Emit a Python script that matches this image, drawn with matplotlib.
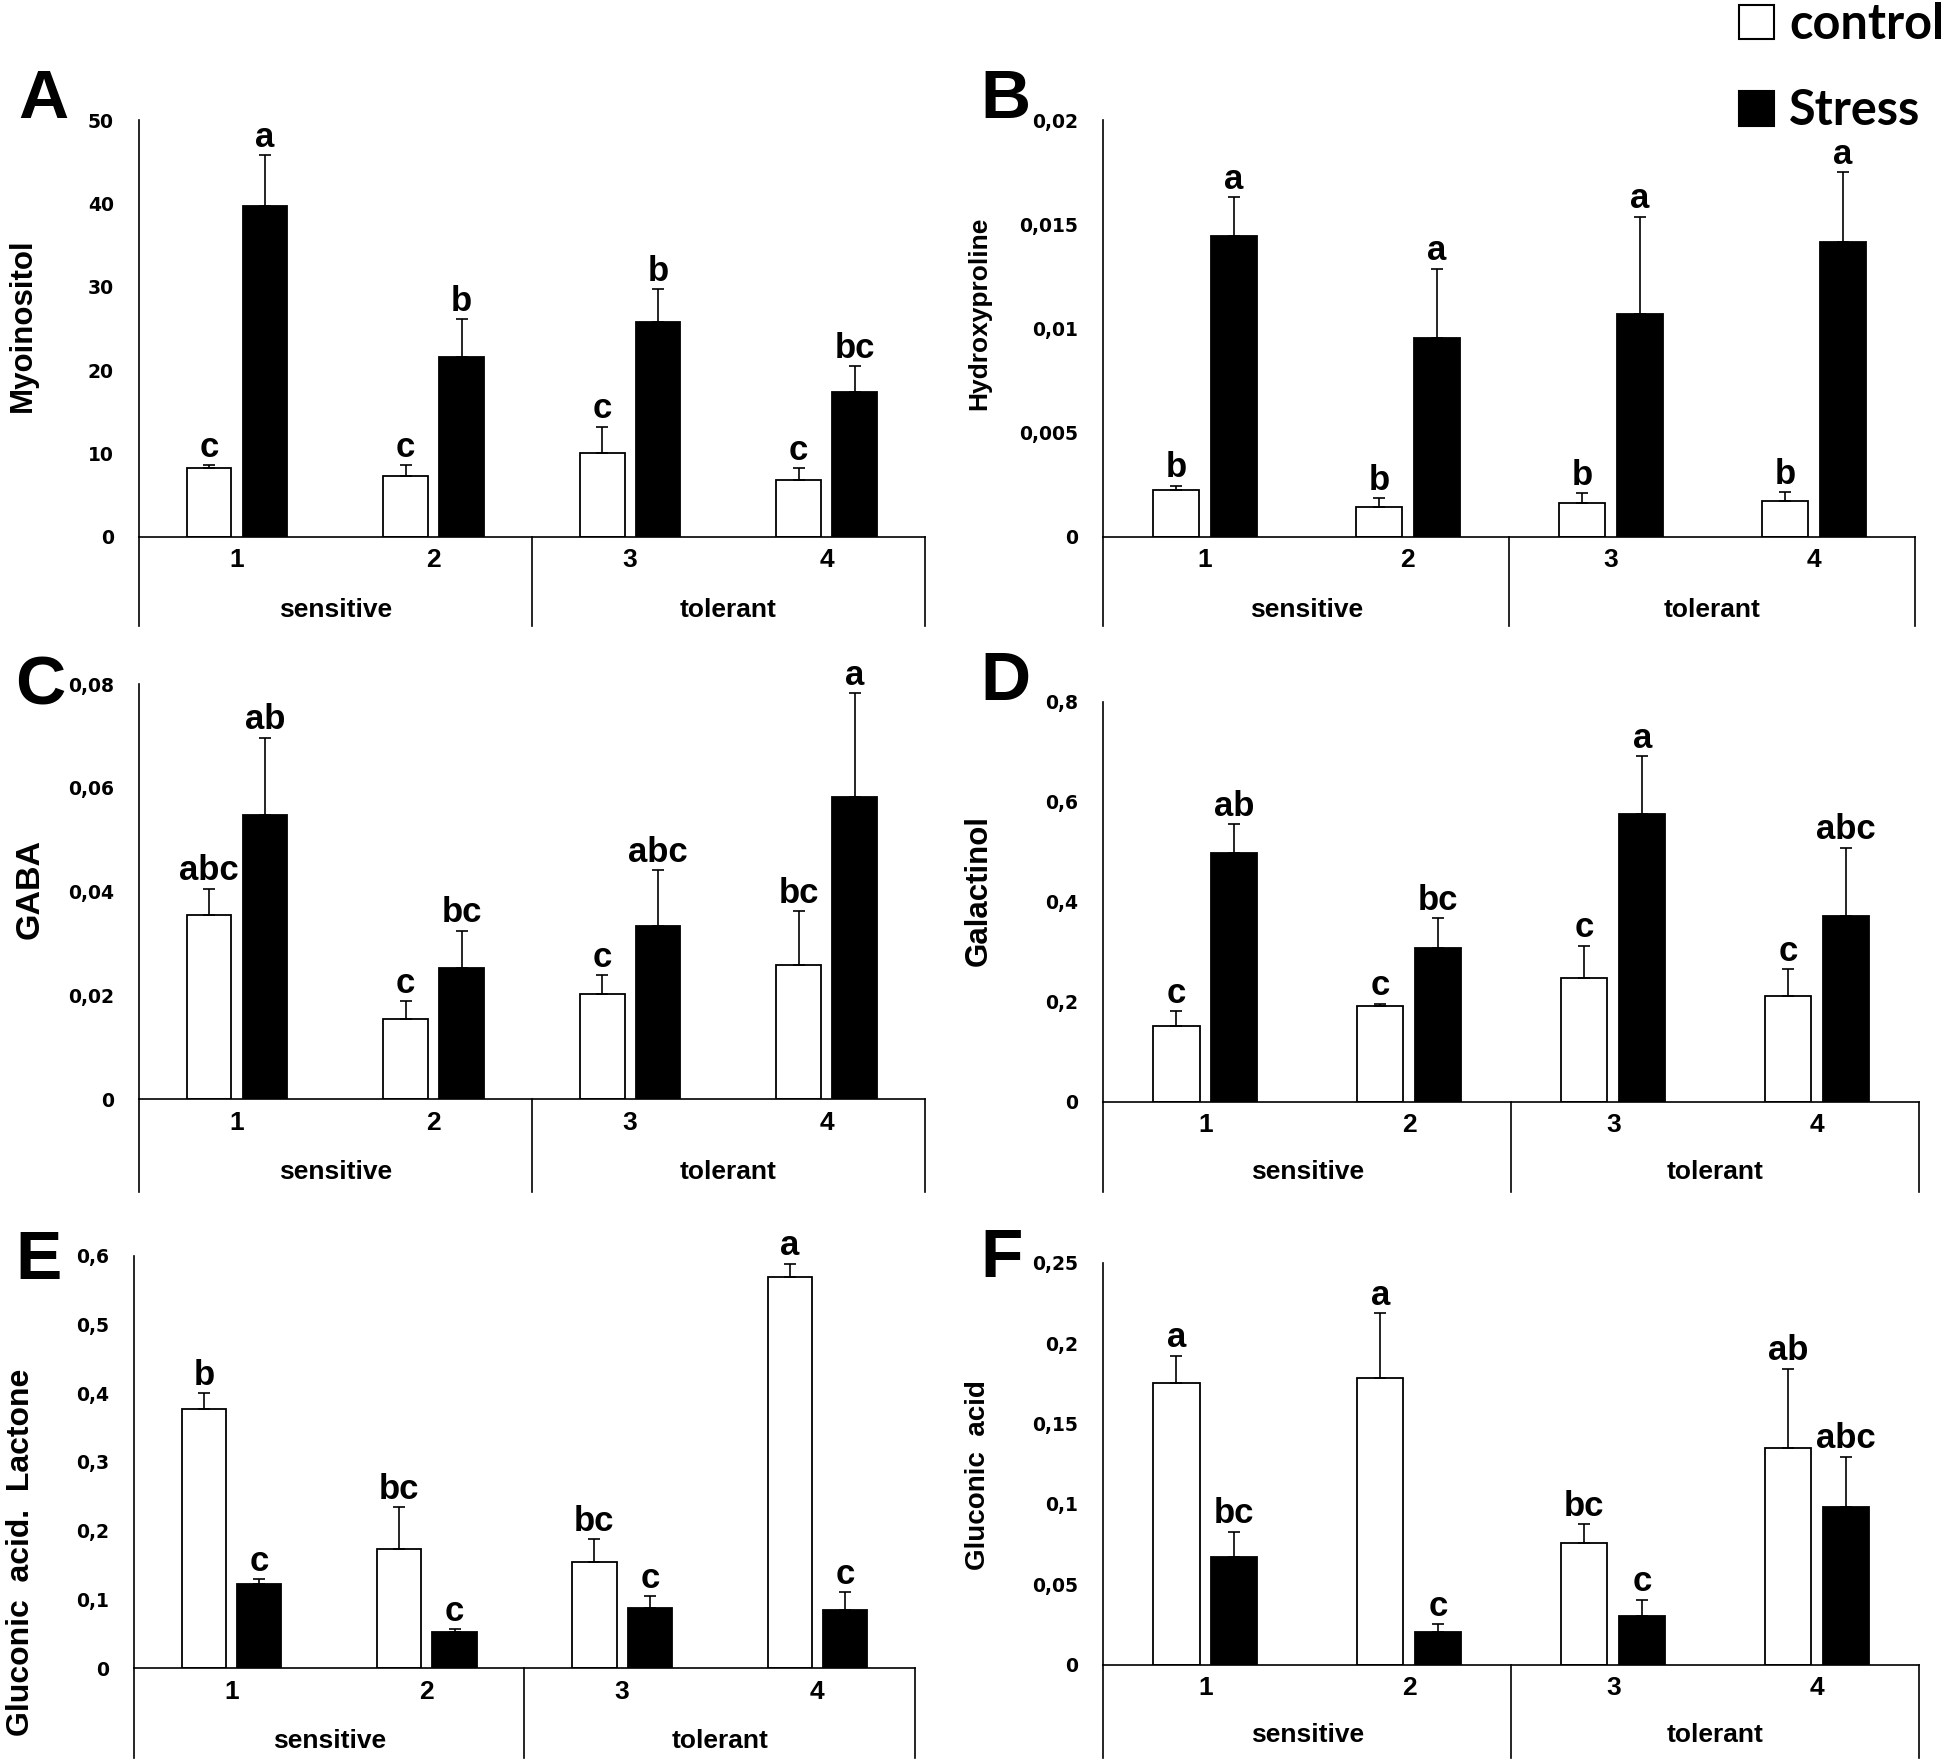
import numpy as np
import matplotlib
matplotlib.use('Agg')
import matplotlib.pyplot as plt
from matplotlib.patches import Patch

plt.rcParams['font.family'] = ['Liberation Sans', 'DejaVu Sans']
plt.rcParams['font.weight'] = 'bold'

# categories
genotypes = ['1', '2', '3', '4']
groups = ['sensitive', 'tolerant']

# A - Myoinositol
myo_ctrl = [8.2, 7.3, 10.0, 6.8]
myo_ctrl_err = [0.4, 1.3, 3.2, 1.4]
myo_str = [39.7, 21.6, 25.8, 17.4]
myo_str_err = [6.1, 4.5, 3.9, 3.1]
myo_ctrl_let = ['c', 'c', 'c', 'c']
myo_str_let = ['a', 'b', 'b', 'bc']
myo_ticks = [0, 10, 20, 30, 40, 50]
myo_ticklabels = ['0', '10', '20', '30', '40', '50']

# B - Hydroxyproline
hyp_ctrl = [0.00226, 0.00143, 0.00161, 0.00173]
hyp_ctrl_err = [0.00018, 0.00042, 0.00047, 0.00041]
hyp_str = [0.01446, 0.00952, 0.01071, 0.01417]
hyp_str_err = [0.00184, 0.00334, 0.00465, 0.00333]
hyp_ctrl_let = ['b', 'b', 'b', 'b']
hyp_str_let = ['a', 'a', 'a', 'a']
hyp_ticks = [0, 0.005, 0.01, 0.015, 0.02]
hyp_ticklabels = ['0', '0,005', '0,01', '0,015', '0,02']

# C - GABA
gaba_ctrl = [0.0356, 0.0155, 0.0203, 0.0258]
gaba_ctrl_err = [0.0050, 0.0034, 0.0036, 0.0105]
gaba_str = [0.0547, 0.0253, 0.0334, 0.0583]
gaba_str_err = [0.0150, 0.0072, 0.0108, 0.0200]
gaba_ctrl_let = ['abc', 'c', 'c', 'bc']
gaba_str_let = ['ab', 'bc', 'abc', 'a']
gaba_ticks = [0, 0.02, 0.04, 0.06, 0.08]
gaba_ticklabels = ['0', '0,02', '0,04', '0,06', '0,08']

# D - Galactinol
gal_ctrl = [0.151, 0.191, 0.248, 0.211]
gal_ctrl_err = [0.030, 0.005, 0.064, 0.054]
gal_str = [0.498, 0.307, 0.575, 0.372]
gal_str_err = [0.057, 0.060, 0.116, 0.136]
gal_ctrl_let = ['c', 'c', 'c', 'c']
gal_str_let = ['ab', 'bc', 'a', 'abc']
gal_ticks = [0, 0.2, 0.4, 0.6, 0.8]
gal_ticklabels = ['0', '0,2', '0,4', '0,6', '0,8']

# E - Gluconic acid. Lactone
gdl_ctrl = [0.3775, 0.174, 0.154, 0.569]
gdl_ctrl_err = [0.0225, 0.060, 0.034, 0.019]
gdl_str = [0.1227, 0.0525, 0.087, 0.0844]
gdl_str_err = [0.0069, 0.004, 0.018, 0.0266]
gdl_ctrl_let = ['b', 'bc', 'bc', 'a']
gdl_str_let = ['c', 'c', 'c', 'c']
gdl_ticks = [0, 0.1, 0.2, 0.3, 0.4, 0.5, 0.6]
gdl_ticklabels = ['0', '0,1', '0,2', '0,3', '0,4', '0,5', '0,6']

# F - Gluconic acid
glu_ctrl = [0.1755, 0.1787, 0.0759, 0.135]
glu_ctrl_err = [0.0169, 0.0401, 0.0114, 0.0492]
glu_str = [0.0671, 0.020, 0.0302, 0.0979]
glu_str_err = [0.0156, 0.0053, 0.0101, 0.0314]
glu_ctrl_let = ['a', 'a', 'bc', 'ab']
glu_str_let = ['bc', 'c', 'c', 'abc']
glu_ticks = [0, 0.05, 0.1, 0.15, 0.2, 0.25]
glu_ticklabels = ['0', '0,05', '0,1', '0,15', '0,2', '0,25']


def draw_panel(fig, rect, box_bottom, ctrl, ctrl_err, stress, stress_err,
               ctrl_let, stress_let, ticks, ticklabels, ylabel, ylabel_xy, ylabel_size):
    ax = fig.add_axes(rect)
    x = np.arange(1, len(genotypes) + 1)
    off = 0.142
    w = 0.227
    ax.bar(x - off, ctrl, w, color='white', edgecolor='black', linewidth=1.3, zorder=2)
    ax.bar(x + off, stress, w, color='black', edgecolor='black', linewidth=1.3, zorder=2)
    ax.errorbar(x - off, ctrl, yerr=[np.zeros(len(x)), ctrl_err], fmt='none',
                ecolor='black', elinewidth=1.2, capsize=4, capthick=1.2, zorder=3)
    ax.errorbar(x + off, stress, yerr=[np.zeros(len(x)), stress_err], fmt='none',
                ecolor='black', elinewidth=1.2, capsize=4, capthick=1.2, zorder=3)
    for xs, ys, es, ls in [(x - off, ctrl, ctrl_err, ctrl_let),
                           (x + off, stress, stress_err, stress_let)]:
        for xi, yi, ei, t in zip(xs, ys, es, ls):
            ax.annotate(t, (xi, yi + ei), xytext=(0, 1), textcoords='offset points',
                        ha='center', va='bottom', fontsize=25, fontweight='bold',
                        annotation_clip=False)

    ax.set_xlim(0.5, len(x) + 0.5)
    ax.set_ylim(ticks[0], ticks[-1])
    ax.set_yticks(ticks)
    ax.set_yticklabels(ticklabels, family='DejaVu Sans', fontweight='bold')
    ax.tick_params(axis='y', length=0, pad=18, labelsize=13.5)
    ax.set_xticks([])
    ax.spines['top'].set_visible(False)
    ax.spines['right'].set_visible(False)
    for s in ['left', 'bottom']:
        ax.spines[s].set_linewidth(1.2)

    # category box below the axis
    depth = (rect[1] - box_bottom) / rect[3]
    tr = ax.get_xaxis_transform()
    for xv in [0.5, 2.5, len(x) + 0.5]:
        ax.plot([xv, xv], [0, -depth], color='black', lw=1.2, transform=tr, clip_on=False)
    for xi, g in zip(x, genotypes):
        ax.text(xi, -0.057, g, transform=tr, ha='center', va='center', fontsize=19)
    ax.text(1.5, -0.176, groups[0], transform=tr, ha='center', va='center', fontsize=19)
    ax.text(3.5, -0.176, groups[1], transform=tr, ha='center', va='center', fontsize=19)

    fig.text(ylabel_xy[0], ylabel_xy[1], ylabel, rotation=90, ha='center', va='center',
             fontsize=ylabel_size, fontweight='bold')
    return ax


fig = plt.figure(figsize=(19.44, 17.6), dpi=100)

draw_panel(fig, [0.0714, 0.6951, 0.4044, 0.2366], 0.6444,
           myo_ctrl, myo_ctrl_err, myo_str, myo_str_err, myo_ctrl_let, myo_str_let,
           myo_ticks, myo_ticklabels, 'Myoinositol', (0.0118, 0.815), 22.5)
draw_panel(fig, [0.5676, 0.6951, 0.4177, 0.2366], 0.6444,
           hyp_ctrl, hyp_ctrl_err, hyp_str, hyp_str_err, hyp_ctrl_let, hyp_str_let,
           hyp_ticks, hyp_ticklabels, 'Hydroxyproline', (0.5036, 0.8219), 19)
draw_panel(fig, [0.0714, 0.3754, 0.4044, 0.2359], 0.3225,
           gaba_ctrl, gaba_ctrl_err, gaba_str, gaba_str_err, gaba_ctrl_let, gaba_str_let,
           gaba_ticks, gaba_ticklabels, 'GABA', (0.0154, 0.4949), 24.5)
draw_panel(fig, [0.5676, 0.3739, 0.4196, 0.2275], 0.3225,
           gal_ctrl, gal_ctrl_err, gal_str, gal_str_err, gal_ctrl_let, gal_str_let,
           gal_ticks, gal_ticklabels, 'Galactinol', (0.5033, 0.4943), 22.5)
draw_panel(fig, [0.0689, 0.0521, 0.4018, 0.2345], 0.0014,
           gdl_ctrl, gdl_ctrl_err, gdl_str, gdl_str_err, gdl_ctrl_let, gdl_str_let,
           gdl_ticks, gdl_ticklabels, 'Gluconic  acid.  Lactone', (0.0108, 0.1182), 23)
draw_panel(fig, [0.5676, 0.0542, 0.4196, 0.2282], 0.0014,
           glu_ctrl, glu_ctrl_err, glu_str, glu_str_err, glu_ctrl_let, glu_str_let,
           glu_ticks, glu_ticklabels, 'Gluconic  acid', (0.5033, 0.1619), 20)

# panel letters
for t, px, py in [('A', 0.0096, 0.9331), ('B', 0.5045, 0.9331),
                  ('C', 0.0080, 0.600), ('D', 0.5045, 0.6021),
                  ('E', 0.0077, 0.2732), ('F', 0.5045, 0.2746)]:
    fig.text(px, py, t, fontsize=50, fontweight='bold', va='baseline')

handles = [Patch(facecolor='white', edgecolor='black', linewidth=1.5),
           Patch(facecolor='black', edgecolor='black', linewidth=1.5)]
fig.legend(handles, ['control', 'Stress'], loc='upper right', bbox_to_anchor=(1.01, 1.01),
           frameon=False, handlelength=0.72, handleheight=0.72, handletextpad=0.3,
           labelspacing=0.85, borderaxespad=0,
           prop={'family': 'Lato', 'weight': 'bold', 'size': 35})

fig.savefig('out.png', dpi=100)
